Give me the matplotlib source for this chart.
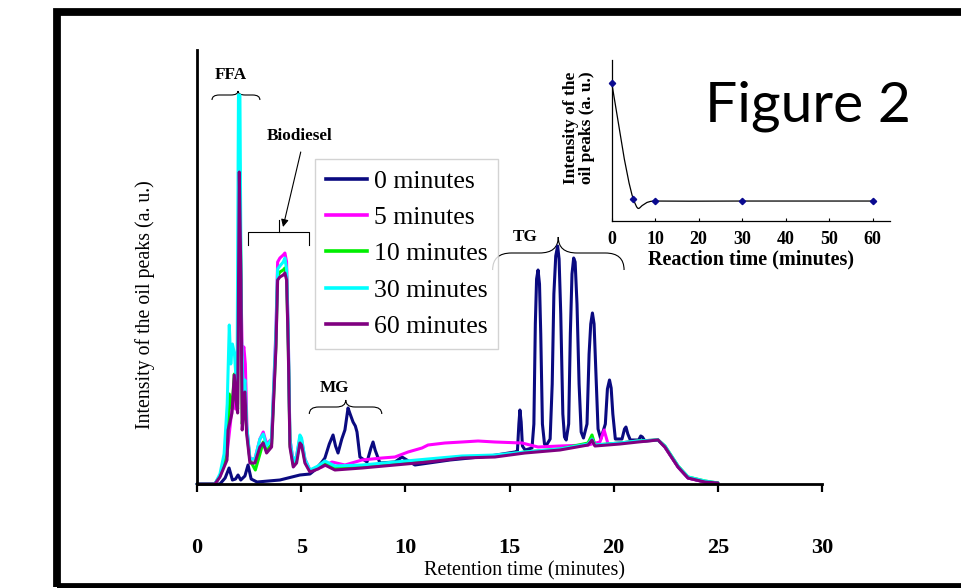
import numpy as np
import matplotlib
matplotlib.use("Agg")
import matplotlib.pyplot as plt
from matplotlib.path import Path
from matplotlib.patches import PathPatch, Rectangle
from matplotlib.lines import Line2D

# ---------------- data (retention time in minutes, intensity in a.u.) ----------------
labels = ["0 minutes", "5 minutes", "10 minutes", "30 minutes", "60 minutes"]
colors = ["#0a0a80", "#ff00ff", "#00ee00", "#00ffff", "#800080"]

t0 = [0, 1.10, 1.35, 1.54, 1.70, 1.85, 1.97, 2.10, 2.30, 2.45, 2.60, 2.88, 3.98, 4.94, 5.42,
      5.66, 6.00, 6.14, 6.35, 6.53, 6.65, 6.77, 6.95, 7.10, 7.25, 7.35, 7.49, 7.60, 7.68, 7.82,
      8.16, 8.35, 8.45, 8.55, 8.78, 9.50, 9.84, 10.46,
      12.14, 14.06, 15.26, 15.38, 15.45, 15.50, 15.56, 15.62, 15.75,
      16.08, 16.17, 16.24, 16.30, 16.37, 16.44, 16.50, 16.58, 16.68, 16.75,
      16.95, 17.05, 17.13, 17.22, 17.31, 17.38, 17.46, 17.56, 17.64, 17.72,
      17.84, 17.92, 18.00, 18.08, 18.15, 18.24, 18.34, 18.44, 18.55,
      18.72, 18.82, 18.90, 18.98, 19.06, 19.15, 19.25, 19.38,
      19.60, 19.70, 19.80, 19.88, 19.96, 20.08,
      20.40, 20.52, 20.59, 20.68, 20.80,
      21.20, 21.30, 21.38, 21.50, 22.13, 22.46, 23.09, 23.57, 24.38, 25.0]
i0 = [0, 0, 6, 16, 4, 5, 9, 4, 8, 19, 5, 2, 4, 9, 10,
      14, 22, 26, 40, 49, 38, 31, 45, 54, 76, 70, 62, 58, 52, 27,
      22, 36, 42, 34, 21, 22, 27, 19,
      24, 28, 32, 33, 60, 74, 62, 38, 34,
      36, 60, 160, 205, 214, 200, 150, 60, 40, 38,
      45, 100, 190, 228, 238, 225, 170, 70, 47, 44,
      60, 150, 210, 226, 222, 180, 100, 52, 46,
      60, 130, 160, 171, 160, 110, 55, 45,
      60, 95, 104, 96, 70, 45,
      45, 55, 57, 50, 44,
      44, 48, 47, 43, 44, 37, 17, 6, 2, 1]

t5 = [0, 0.86, 1.10, 1.44, 1.60, 1.75, 1.85, 1.95, 2.03, 2.11, 2.17, 2.25, 2.32, 2.40, 2.54,
      2.78, 3.02, 3.18, 3.34, 3.58, 3.79, 3.87, 3.98, 4.14, 4.22, 4.30, 4.38, 4.46, 4.62, 4.78,
      4.94, 5.02, 5.18, 5.42, 6.00, 6.48, 7.10, 7.92, 8.88, 9.50, 10.13, 10.80, 11.09, 11.90,
      12.72, 13.49, 14.30, 15.60, 16.37, 17.42, 18.77, 19.34, 19.54, 19.73, 20.30, 21.17, 22.13,
      22.46, 23.09, 23.57, 24.38, 25.0]
i5 = [0, 0, 8, 30, 60, 90, 75, 80, 300, 200, 130, 137, 120, 55, 25,
      25, 45, 52, 40, 45, 155, 222, 226, 229, 231, 222, 150, 45, 22, 28,
      46, 44, 25, 14, 17, 22, 19, 24, 26, 27, 32, 36, 39, 41,
      42, 43, 42, 41, 37, 38, 39, 42, 54, 40, 41, 43, 44,
      37, 17, 6, 2, 1]

t10 = [0, 0.86, 1.10, 1.44, 1.55, 1.68, 1.79, 1.87, 1.95, 2.03, 2.11, 2.17, 2.30, 2.38, 2.54,
       2.80, 3.02, 3.18, 3.34, 3.58, 3.79, 3.87, 3.98, 4.14, 4.22, 4.30, 4.38, 4.46, 4.62, 4.78,
       4.94, 5.02, 5.18, 5.42, 5.81, 6.14, 6.62, 7.92, 9.50, 11.09, 12.72, 14.30, 15.74, 17.42,
       18.77, 18.96, 19.10, 20.30, 21.17, 22.13, 22.46, 23.09, 23.57, 24.38, 25.0]
i10 = [0, 0, 8, 28, 90, 75, 110, 90, 75, 340, 210, 60, 95, 55, 24,
       14, 30, 42, 33, 40, 140, 208, 212, 214, 216, 208, 140, 40, 19, 24,
       44, 42, 23, 13, 17, 21, 16, 18, 21, 24, 27, 28, 32, 35,
       41, 49, 39, 41, 43, 44, 38, 18, 7, 3, 1]

t30 = [0, 0.86, 1.10, 1.30, 1.45, 1.55, 1.62, 1.70, 1.80, 1.92, 1.99, 2.06, 2.13, 2.22, 2.30,
       2.38, 2.54, 2.78, 3.02, 3.18, 3.34, 3.58, 3.79, 3.87, 3.98, 4.14, 4.22, 4.30, 4.38, 4.46,
       4.62, 4.78, 4.94, 5.02, 5.18, 5.42, 5.81, 6.14, 6.62, 7.92, 9.50, 11.09, 12.72, 14.30,
       15.74, 17.42, 18.77, 18.96, 19.10, 20.30, 21.17, 22.13, 22.46, 23.09, 23.57, 24.38, 25.0]
i30 = [0, 0, 10, 30, 80, 159, 120, 140, 130, 90, 389, 389, 150, 90, 104,
       60, 25, 25, 45, 50, 38, 45, 150, 215, 218, 222, 226, 215, 150, 45,
       22, 28, 49, 46, 25, 14, 18, 23, 18, 19, 22, 25, 28, 29,
       32, 35, 40, 45, 39, 41, 43, 44, 38, 18, 7, 3, 1]

t60 = [0, 0.86, 1.10, 1.44, 1.49, 1.68, 1.79, 1.87, 1.95, 2.03, 2.11, 2.17, 2.30, 2.38, 2.54,
       2.78, 3.02, 3.18, 3.34, 3.58, 3.79, 3.87, 3.98, 4.14, 4.22, 4.30, 4.38, 4.46, 4.62, 4.78,
       4.94, 5.02, 5.18, 5.42, 5.81, 6.14, 6.62, 7.92, 9.50, 11.09, 12.72, 14.30, 15.74, 17.42,
       18.77, 18.96, 19.10, 20.30, 21.17, 22.13, 22.46, 23.09, 23.57, 24.38, 25.0]
i60 = [0, 0, 7, 24, 54, 71, 109, 84, 71, 312, 204, 54, 92, 51, 21,
       21, 37, 41, 31, 37, 137, 204, 207, 209, 211, 204, 137, 37, 17, 21,
       41, 39, 21, 12, 15, 19, 14, 16, 19, 22, 26, 27, 31, 34,
       39, 44, 38, 40, 42, 44, 37, 17, 6, 2, 1]

series_t = [t0, t5, t10, t30, t60]
series_i = [i0, i5, i10, i30, i60]

x_ticks = [0, 5, 10, 15, 20, 25, 30]

# inset: total oil-peak intensity vs reaction time
inset_time = [0, 5, 10, 30, 60]
inset_int = [85.9, 13.5, 12.4, 12.4, 12.4]
inset_ticks = [0, 10, 20, 30, 40, 50, 60]

# ---------------- figure ----------------
W, H = 961, 588
fig = plt.figure(figsize=(W / 100, H / 100), dpi=100)
fig.patch.set_facecolor("white")

def fx(px):
    return px / W

def fy(py):
    return 1 - py / H

serif = "Liberation Serif"

# outer frame (slide border)
fig.patches.append(Rectangle((fx(56.5), fy(587)), 1.2, fy(12) - fy(587),
                             transform=fig.transFigure, fill=False,
                             edgecolor="black", lw=5.6, clip_on=False))

ax = fig.add_axes([fx(197), fy(484), fx(822) - fx(197), fy(50) - fy(484)])
ax.set_xlim(0, 30)
ax.set_ylim(0, 434)
for s in ["top", "right"]:
    ax.spines[s].set_visible(False)
for s in ["left", "bottom"]:
    ax.spines[s].set_linewidth(2.0)
ax.set_yticks([])
ax.set_xticks(x_ticks)
ax.set_xticklabels([str(v) for v in x_ticks], fontfamily=serif,
                   fontweight="bold", fontsize=16)
ax.tick_params(axis="x", direction="out", length=6, width=1.6, pad=33)
ax.set_facecolor("none")

for t, y, c in zip(series_t, series_i, colors):
    ax.plot(t, y, color=c, lw=2.2, solid_joinstyle="round", solid_capstyle="round",
            clip_on=False)

# legend
handles = [Line2D([], [], color=c, lw=2.6) for c in colors]
leg = fig.legend(handles, labels, loc="upper left",
                 bbox_to_anchor=(fx(315), fy(159)), borderaxespad=0,
                 prop={"family": serif, "size": 18.5}, frameon=True,
                 fancybox=False, edgecolor="#c8c8c8", handlelength=1.6,
                 handletextpad=0.27, labelspacing=0.52, borderpad=0.42)
leg.get_frame().set_linewidth(1.0)

# ---------------- annotations ----------------
def brace(x1, x2, xm, y_end, y_line, y_tip, r):
    verts = [(x1, y_end), (x1, y_line), (x1 + r, y_line), (xm - r, y_line),
             (xm, y_line), (xm, y_tip), (xm, y_line), (xm + r, y_line),
             (x2 - r, y_line), (x2, y_line), (x2, y_end)]
    codes = [Path.MOVETO, Path.CURVE3, Path.CURVE3, Path.LINETO,
             Path.CURVE3, Path.CURVE3, Path.CURVE3, Path.CURVE3,
             Path.LINETO, Path.CURVE3, Path.CURVE3]
    ax.add_patch(PathPatch(Path(verts, codes), fill=False, lw=0.8,
                           edgecolor="black", clip_on=False))

lab = dict(fontfamily=serif, fontweight="bold", fontsize=12.3, ha="center", va="center")

ax.text(1.63, 409, "FFA", **lab)
brace(0.72, 3.02, 1.97, 384, 389, 393, 0.35)

ax.text(4.9, 348, "Biodiesel", **lab)
ax.plot([2.43, 2.43, 5.39, 5.39], [239, 252, 252, 239], color="black", lw=0.8)
ax.plot([3.92, 3.92], [252, 264], color="black", lw=0.8)
ax.annotate("", xy=(4.13, 257), xytext=(4.98, 332),
            arrowprops=dict(arrowstyle="-|>", lw=0.8, color="black",
                            mutation_scale=11, shrinkA=0, shrinkB=0))

ax.text(6.58, 96, "MG", **lab)
brace(5.39, 8.87, 7.14, 70, 77, 84, 0.45)

ax.text(15.74, 247, "TG", **lab)
brace(14.19, 20.50, 17.34, 214, 231, 247, 0.9)

fig.text(fx(145), fy(305), "Intensity of the oil peaks (a. u.)", rotation=90,
         fontfamily=serif, fontsize=14.3, ha="center", va="center")
fig.text(fx(525), fy(571), "Retention time (minutes)", fontfamily=serif,
         fontsize=14.5, ha="center", va="center")

fig.text(fx(705), fy(122), "Figure 2", fontfamily="Lato", fontsize=41,
         ha="left", va="baseline")

# ---------------- inset ----------------
ia = fig.add_axes([fx(611.7), fy(221), fx(890) - fx(611.7), fy(60) - fy(221)])
ia.set_xlim(0, 64)
ia.set_ylim(0, 100)
ia.set_facecolor("none")
for s in ["top", "right"]:
    ia.spines[s].set_visible(False)
for s in ["left", "bottom"]:
    ia.spines[s].set_linewidth(0.9)
ia.set_yticks([])
ia.set_xticks(inset_ticks)
ia.set_xticklabels([str(v) for v in inset_ticks], fontfamily=serif,
                   fontweight="bold", fontsize=13)
ia.tick_params(axis="x", direction="in", length=2.5, width=0.8, pad=7)

# smooth (Excel-like) curve through the points
sx, sy = (890 - 611.7) / 64, (221 - 60) / 100
P = np.column_stack([np.array(inset_time) * sx, np.array(inset_int) * sy])
verts = [tuple(P[0])]
codes = [Path.MOVETO]
n = len(P)
for k in range(n - 1):
    p0 = P[k - 1] if k > 0 else P[k]
    p1, p2 = P[k], P[k + 1]
    p3 = P[k + 2] if k + 2 < n else P[k + 1]
    c1 = p1 + (p2 - p0) / 6
    c2 = p2 - (p3 - p1) / 6
    verts += [tuple(c1), tuple(c2), tuple(p2)]
    codes += [Path.CURVE4] * 3
verts = [(vx / sx, vy / sy) for vx, vy in verts]
ia.add_patch(PathPatch(Path(verts, codes), fill=False, lw=0.9, edgecolor="black",
                       clip_on=False))
ia.plot(inset_time, inset_int, ls="none", marker="D", ms=3.2, color="#0a0a90",
        clip_on=False, zorder=5)
ia.set_xlabel("Reaction time (minutes)", fontfamily=serif, fontweight="bold",
              fontsize=14.5, labelpad=1.5)
fig.text(fx(579), fy(128), "Intensity of the\noil peaks (a. u.)", rotation=90,
         fontfamily=serif, fontweight="bold", fontsize=12.5, ha="center",
         va="center", multialignment="center", linespacing=0.95)

fig.savefig("out.png", dpi=100)
